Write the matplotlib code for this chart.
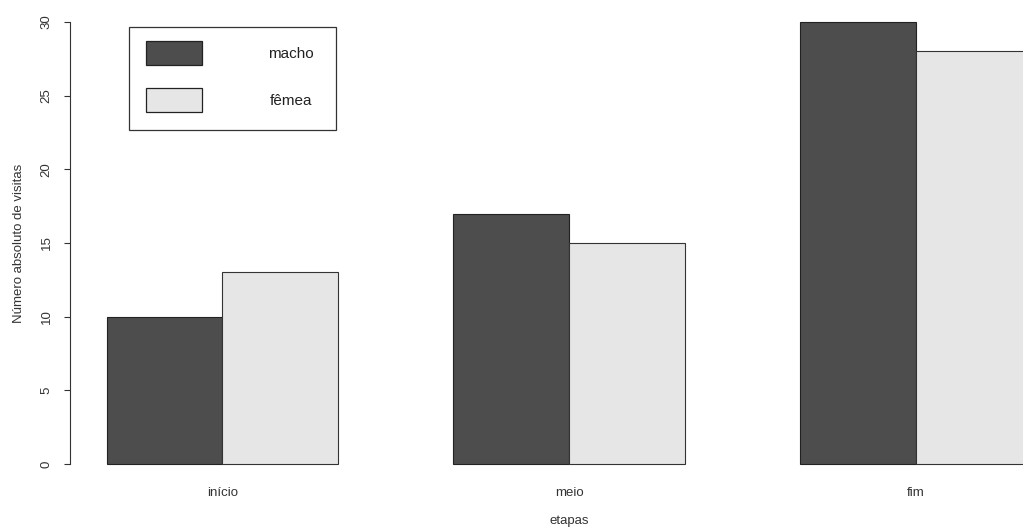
import matplotlib
matplotlib.use("Agg")
import matplotlib.pyplot as plt
from matplotlib.patches import Rectangle
import numpy as np

plt.rcParams["font.family"] = ["Liberation Sans", "DejaVu Sans"]

# Visit counts per stage, split by sex
etapas = ["início", "meio", "fim"]
sexos = ["macho", "fêmea"]
macho = [10, 17, 30]
femea = [13, 15, 28]
yticks = [0, 5, 10, 15, 20, 25, 30]
cores = ["#4D4D4D", "#E6E6E6"]

W, H = 1023, 528
fig = plt.figure(figsize=(W / 100, H / 100), dpi=100)

# Plot region (R-style barplot: bars of unit width, one-bar gap between groups)
def px(x0, y0, x1, y1):
    return [x0 / W, 1 - y1 / H, (x1 - x0) / W, (y1 - y0) / H]

ax = fig.add_axes(px(70, 4.3, 1068, 481.7))

n = len(etapas)
group_start = 1 + 3 * np.arange(n)          # left edge of each group
centers = group_start + 1.0                  # group centres
ax.bar(group_start + 0.5, macho, width=1.0, color=cores[0],
       edgecolor="#222222", linewidth=0.8)
ax.bar(group_start + 1.5, femea, width=1.0, color=cores[1],
       edgecolor="#333333", linewidth=0.8)

ax.set_xlim(0.68, 9.32)
ax.set_ylim(-1.2, 31.2)

for s in ["top", "right", "bottom"]:
    ax.spines[s].set_visible(False)
ax.spines["left"].set_bounds(0, 30)
ax.spines["left"].set_linewidth(0.8)
ax.spines["left"].set_color("#333333")

ax.set_yticks(yticks)
ax.set_yticklabels([str(v) for v in yticks], rotation=90, va="center",
                   fontsize=9.5, color="#333333")
ax.tick_params(axis="y", length=4.5, width=0.8, color="#333333", pad=8)

ax.set_xticks(centers)
ax.set_xticklabels(etapas, fontsize=9.5, color="#333333")
ax.tick_params(axis="x", length=0, pad=4)

fig.text(569 / W, 1 - 521 / H, "etapas", ha="center", va="center",
         fontsize=9.5, color="#333333")
fig.text(19 / W, 1 - 243 / H, "Número absoluto de visitas", ha="center",
         va="center", rotation=90, fontsize=9.5, color="#333333")

# Legend box
def add_rect(x0, y0, x1, y1, fc, ec, lw):
    fig.patches.append(Rectangle((x0 / W, 1 - y1 / H), (x1 - x0) / W,
                                 (y1 - y0) / H, transform=fig.transFigure,
                                 facecolor=fc, edgecolor=ec, linewidth=lw))

add_rect(129, 27, 336, 130, "white", "#333333", 0.9)
for i, (lab, cor) in enumerate(zip(sexos, cores)):
    y0 = 41 + i * 47
    add_rect(146, y0, 202, y0 + 24, cor, "#222222", 0.9)
    fig.text(291 / W, 1 - (y0 + 13) / H, lab, ha="center", va="center",
             fontsize=11, color="#222222")

fig.savefig("out.png", dpi=100)
